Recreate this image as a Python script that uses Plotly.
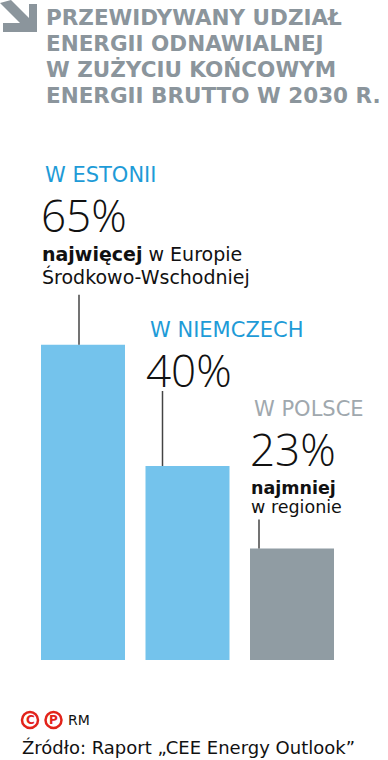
import plotly.graph_objects as go

# ---- data ----
categories = ["W ESTONII", "W NIEMCZECH", "W POLSCE"]
values = [65, 40, 23]
value_labels = ["65%", "40%", "23%"]
notes_bold = ["najwięcej", "", "najmniej"]
notes_rest = [" w Europie", "", ""]
notes_line2 = ["Środkowo-Wschodniej", "", "w regionie"]
title_lines = ["PRZEWIDYWANY UDZIAŁ", "ENERGII ODNAWIALNEJ",
               "W ZUŻYCIU KOŃCOWYM", "ENERGII BRUTTO W 2030 R."]
source_text = "Źródło: Raport „CEE Energy Outlook”"

# ---- styles ----
W, H = 388, 760
FONT = "DejaVu Sans, Verdana, sans-serif"
NUM_FONT = "Open Sans, Noto Sans, sans-serif"
bar_colors = ["#74C3EC", "#74C3EC", "#909CA3"]
label_colors = ["#1E9BD7", "#1E9BD7", "#A0A8AE"]
title_color = "#8B959C"
px_per_unit_x = 104.5
px_per_unit_y = 4.85
bar_width = 84 / px_per_unit_x
x0_px = 83            # pixel centre of first bar
base_px = 660         # pixel of y=0

# per bar pixel offsets above bar top
label_off = [170, 136, 139]
number_off = [130, 96, 99.5]
note1_off = [91, None, 60]
note2_off = [68, None, 41.5]
note_size = [19, None, 17.5]
line_x_off = [38, 17, 9]         # px from bar left
line_top_off = [50, 75, 29]

x = list(range(len(categories)))

fig = go.Figure(go.Bar(
    x=x, y=values, width=bar_width,
    marker=dict(color=bar_colors, line=dict(width=0)),
    hovertext=categories, hoverinfo="text+y",
))

xr = [-x0_px / px_per_unit_x, (W - x0_px) / px_per_unit_x]
yr = [-(H - base_px) / px_per_unit_y, base_px / px_per_unit_y]

fig.update_layout(
    width=W, height=H,
    margin=dict(l=0, r=0, t=0, b=0),
    paper_bgcolor="white", plot_bgcolor="white",
    showlegend=False,
    xaxis=dict(range=xr, visible=False, fixedrange=True),
    yaxis=dict(range=yr, visible=False, fixedrange=True),
    font=dict(family=FONT),
)

ann = []
shapes = []
for i, v in enumerate(values):
    left = x[i] - bar_width / 2
    ann.append(dict(x=left, y=v, xref="x", yref="y", xanchor="left", yanchor="middle",
                    xshift=3, yshift=label_off[i], showarrow=False, borderpad=0,
                    text=categories[i], font=dict(size=21, color=label_colors[i], family=FONT)))
    ann.append(dict(x=left, y=v, xref="x", yref="y", xanchor="left", yanchor="middle",
                    xshift=-1, yshift=number_off[i], showarrow=False, borderpad=0,
                    text=value_labels[i],
                    font=dict(size=44, color="#111111", family=NUM_FONT, weight=300)))
    if note1_off[i] is not None:
        t = "<b>" + notes_bold[i] + "</b>" + notes_rest[i]
        ann.append(dict(x=left, y=v, xref="x", yref="y", xanchor="left", yanchor="middle",
                        xshift=0, yshift=note1_off[i], showarrow=False, borderpad=0,
                        text=t, font=dict(size=note_size[i], color="#111111", family=FONT)))
    if note2_off[i] is not None:
        ann.append(dict(x=left, y=v, xref="x", yref="y", xanchor="left", yanchor="middle",
                        xshift=0, yshift=note2_off[i], showarrow=False, borderpad=0,
                        text=notes_line2[i], font=dict(size=note_size[i], color="#111111", family=FONT)))
    lx = left + line_x_off[i] / px_per_unit_x
    shapes.append(dict(type="line", xref="x", yref="y", x0=lx, x1=lx,
                       y0=v, y1=v + line_top_off[i] / px_per_unit_y,
                       line=dict(color="#444444", width=1.5)))


def px(xp):
    return xp / W


def py(yp):
    return 1 - yp / H


# title
title_centers = [18, 43.5, 69, 95]
for t, yc in zip(title_lines, title_centers):
    ann.append(dict(x=px(45), y=py(yc), xref="paper", yref="paper", xanchor="left",
                    yanchor="middle", showarrow=False, text="<b>" + t + "</b>",
                    borderpad=0,
                    font=dict(size=21.5, color=title_color, family=FONT)))

# arrow icon
pts = [(11, 0), (29, 18), (29, 4), (37, 4), (37, 32), (3, 32), (3, 23), (20, 23), (0, 3)]
path = "M " + " L ".join(f"{px(a)},{py(b)}" for a, b in pts) + " Z"
shapes.append(dict(type="path", xref="paper", yref="paper", path=path,
                   fillcolor=title_color, line=dict(width=0)))

# footer
red = "#E2231A"
for cx, letter in [(30, "C"), (53.5, "P")]:
    shapes.append(dict(type="circle", xref="paper", yref="paper",
                       x0=px(cx - 8), x1=px(cx + 8), y0=py(728), y1=py(712),
                       line=dict(color=red, width=2.5)))
    ann.append(dict(x=px(cx), y=py(720), xref="paper", yref="paper", xanchor="center",
                    yanchor="middle", showarrow=False, text="<b>" + letter + "</b>",
                    font=dict(size=12, color=red, family=FONT)))
ann.append(dict(x=px(66), y=py(720), xref="paper", yref="paper", xanchor="left",
                yanchor="middle", showarrow=False, text="RM",
                font=dict(size=14, color="#111111", family=FONT)))
ann.append(dict(x=px(20), y=py(747), xref="paper", yref="paper", xanchor="left",
                yanchor="middle", showarrow=False, text=source_text,
                font=dict(size=18, color="#111111", family=FONT)))

fig.update_layout(annotations=ann, shapes=shapes)
fig.write_html("out.html",
               config={"displayModeBar": False},
               post_script="document.body.style.margin='0';document.body.style.overflow='hidden';")
